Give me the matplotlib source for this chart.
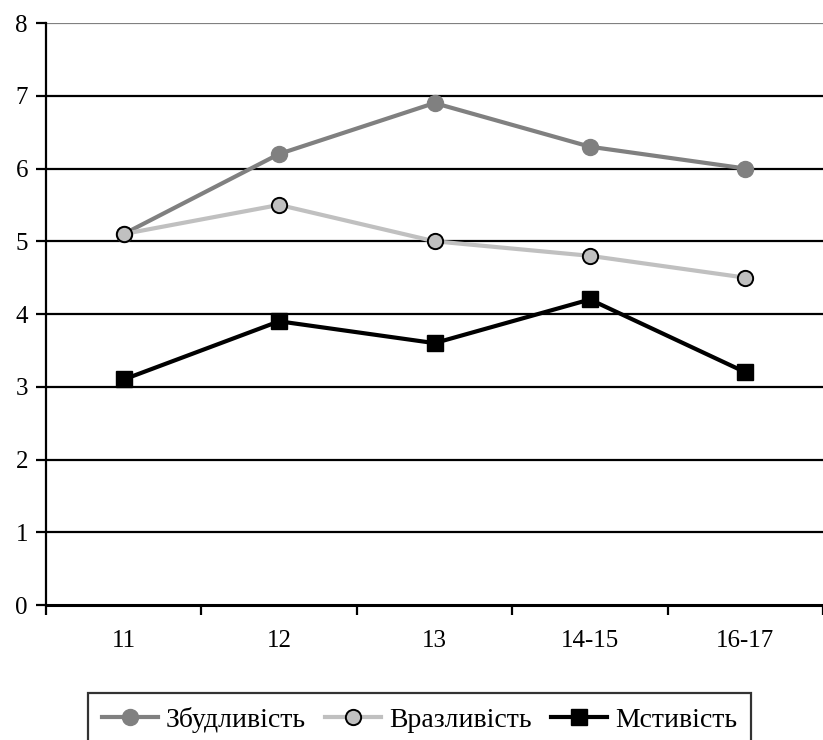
import matplotlib.pyplot as plt

categories = ["11", "12", "13", "14-15", "16-17"]
zbudlyvist = [5.1, 6.2, 6.9, 6.3, 6.0]
vrazlyvist = [5.1, 5.5, 5.0, 4.8, 4.5]
mstyvist = [3.1, 3.9, 3.6, 4.2, 3.2]

plt.rcParams["font.family"] = ["Liberation Serif", "DejaVu Serif"]

fig = plt.figure(figsize=(8.23, 7.40), dpi=100)
ax = fig.add_axes([0.0559, 0.1824, 0.9441, 0.7865])

x = list(range(len(categories)))

# horizontal grid
for y in range(1, 8):
    ax.axhline(y, color="black", lw=1.6, zorder=1)
ax.axhline(8, color="#808080", lw=1.6, zorder=1)

ax.plot(x, zbudlyvist, color="#808080", lw=3, marker="o", ms=11.5,
        markerfacecolor="#808080", markeredgecolor="#808080",
        label="Збудливість", zorder=3)
ax.plot(x, vrazlyvist, color="#c0c0c0", lw=3, marker="o", ms=11,
        markerfacecolor="#c0c0c0", markeredgecolor="black", markeredgewidth=1.4,
        label="Вразливість", zorder=3)
ax.plot(x, mstyvist, color="black", lw=3, marker="s", ms=11.5,
        markerfacecolor="black", markeredgecolor="black",
        label="Мстивість", zorder=4)

ax.set_xlim(-0.5, 4.48)
ax.set_ylim(0, 8)
ax.set_yticks(range(0, 9))

# category boundaries as major ticks, labels at centers as minor ticks
ax.set_xticks([i - 0.5 for i in range(len(categories) + 1)])
ax.set_xticklabels([])
ax.set_xticks(x, minor=True)
ax.set_xticklabels(categories, minor=True)
ax.tick_params(axis="x", which="major", direction="out", length=7, width=1.6, color="black")
ax.tick_params(axis="x", which="minor", length=0, pad=18, labelsize=18)
ax.tick_params(axis="y", direction="out", length=7, width=1.6, labelsize=18, pad=6)

for side in ["top", "right"]:
    ax.spines[side].set_visible(False)
ax.spines["left"].set_linewidth(1.6)
ax.spines["bottom"].set_linewidth(2.2)

leg = fig.legend(loc="upper center", bbox_to_anchor=(0.51, 1 - 693 / 740),
                 ncol=3, fontsize=20, frameon=True, fancybox=False,
                 handlelength=2.0, handletextpad=0.3, columnspacing=0.7,
                 borderpad=0.5, borderaxespad=0, edgecolor="black")
leg.get_frame().set_linewidth(1.6)

fig.savefig("out.png", dpi=100)
